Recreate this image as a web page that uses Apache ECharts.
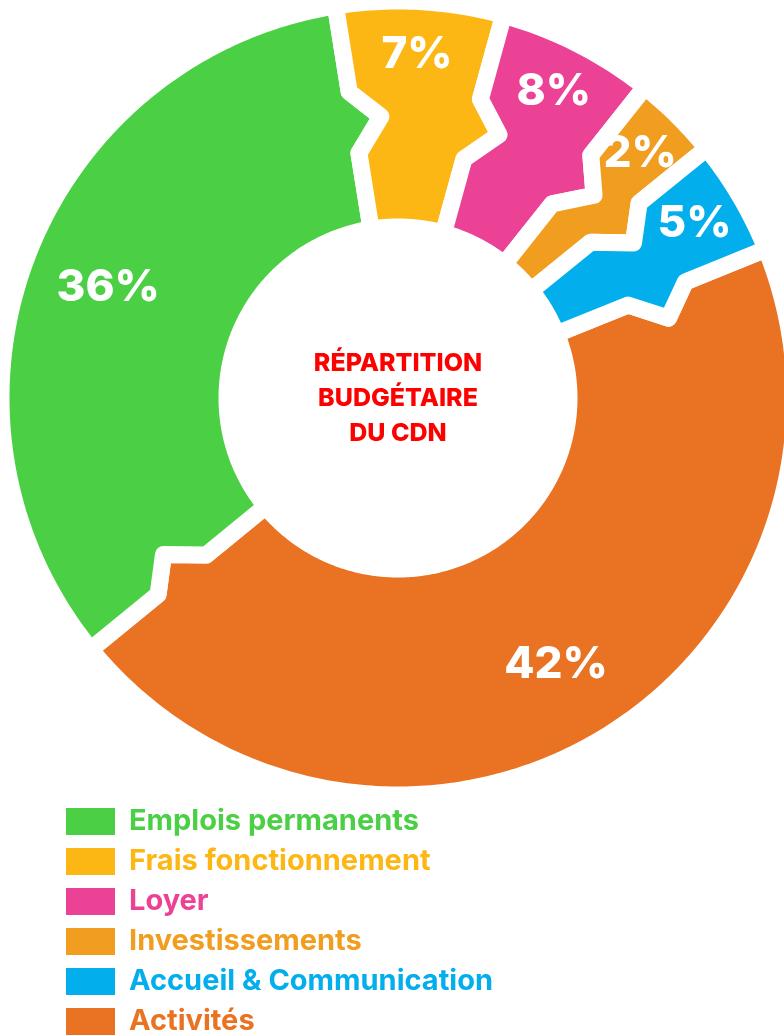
<!DOCTYPE html>
<html>
<head>
<meta charset="utf-8">
<script src="https://cdn.jsdelivr.net/npm/echarts@6/dist/echarts.min.js"></script>
<style>
html,body{margin:0;padding:0;background:#fff;}
#chart{width:784px;height:1035px;}
</style>
</head>
<body>
<div id="chart"></div>
<script>
// Categories (legend order)
var categories = ['Emplois permanents', 'Frais fonctionnement', 'Loyer', 'Investissements', 'Accueil & Communication', 'Activités'];
// Slice sizes as drawn in the picture (share of the ring, %)
var sliceSizes = [33.4, 6.8, 6.4, 3.5, 4.7, 45.2];
// Percent labels printed on the slices
var percentLabels = ['36%', '7%', '8%', '2%', '5%', '42%'];
var colors = ['#4bcf45', '#fdb714', '#ec4296', '#f19d1f', '#02aeec', '#ea7223'];
var centerTitle = 'RÉPARTITION\nBUDGÉTAIRE\nDU CDN';

var FONT = 'Inter, Roboto, "Noto Sans", sans-serif';
var chart = echarts.init(document.getElementById('chart'));

// cumulative extents of each slice on the angle axis (0..100)
var extents = [];
var acc = 0;
sliceSizes.forEach(function (v) { extents.push([acc, acc + v]); acc += v; });

// ring geometry (style constants, in radius-axis units = px)
var R_OUT = 397, R_IN = 171;
var NOTCH_A = 310, NOTCH_TIP = 282, NOTCH_B = 248, NOTCH_SHIFT = 1.55;
var bigIdx = [0, 5];

function renderItem(params, api) {
  var i = params.seriesIndex;
  var s = api.value(0), e = api.value(1);
  var pts = [];
  var n = Math.max(6, Math.ceil((e - s) / 0.2));
  var k;
  for (k = 0; k <= n; k++) pts.push(api.coord([R_OUT, s + (e - s) * k / n]));
  pts.push(api.coord([NOTCH_A, e]));
  pts.push(api.coord([NOTCH_TIP, e + NOTCH_SHIFT]));
  pts.push(api.coord([NOTCH_B, e]));
  for (k = 0; k <= n; k++) pts.push(api.coord([R_IN, e - (e - s) * k / n]));
  pts.push(api.coord([NOTCH_B, s]));
  pts.push(api.coord([NOTCH_TIP, s + NOTCH_SHIFT]));
  pts.push(api.coord([NOTCH_A, s]));
  var mid = (s + e) / 2;
  var lp = api.coord([bigIdx.indexOf(i) >= 0 ? 310 : 344, mid]);
  return {
    type: 'group',
    children: [{
      type: 'polygon',
      shape: { points: pts },
      style: { fill: colors[i], stroke: '#ffffff', lineWidth: 17, lineJoin: 'round' }
    }, {
      type: 'text',
      x: lp[0], y: lp[1],
      z2: 10,
      style: {
        text: percentLabels[i],
        fill: '#ffffff',
        font: '800 44px ' + FONT,
        align: 'center',
        verticalAlign: 'middle'
      }
    }]
  };
}

var series = categories.map(function (c, i) {
  return {
    type: 'custom',
    name: c,
    coordinateSystem: 'polar',
    silent: true,
    z: 2 + (i === 5 ? 0 : 1),
    renderItem: renderItem,
    itemStyle: { color: colors[i] },
    encode: { angle: [0, 1] },
    data: [extents[i]]
  };
});

var option = {
  animation: false,
  backgroundColor: '#ffffff',
  polar: { center: [398, 398], radius: [0, R_OUT] },
  angleAxis: { type: 'value', min: 0, max: 100, startAngle: -140.7, clockwise: true, show: false },
  radiusAxis: { type: 'value', min: 0, max: R_OUT, show: false },
  legend: {
    orient: 'vertical',
    left: 66,
    top: 807,
    height: 300,
    padding: 0,
    itemWidth: 49,
    itemHeight: 27,
    itemGap: 11,
    icon: 'rect',
    selectedMode: false,
    itemStyle: { borderWidth: 0 },
    textStyle: { fontFamily: FONT, fontSize: 29, fontWeight: 700, lineHeight: 27, padding: [0, 0, 0, 9] },
    data: categories.map(function (c, i) {
      return { name: c, itemStyle: { color: colors[i], borderWidth: 0 }, textStyle: { color: colors[i] } };
    })
  },
  graphic: [{
    type: 'text',
    x: 398, y: 398,
    style: {
      text: centerTitle,
      fill: '#ff0000',
      font: '800 25px ' + FONT,
      align: 'center',
      verticalAlign: 'middle',
      lineHeight: 35
    },
    z: 10
  }],
  series: series
};
chart.setOption(option);
</script>
</body>
</html>
